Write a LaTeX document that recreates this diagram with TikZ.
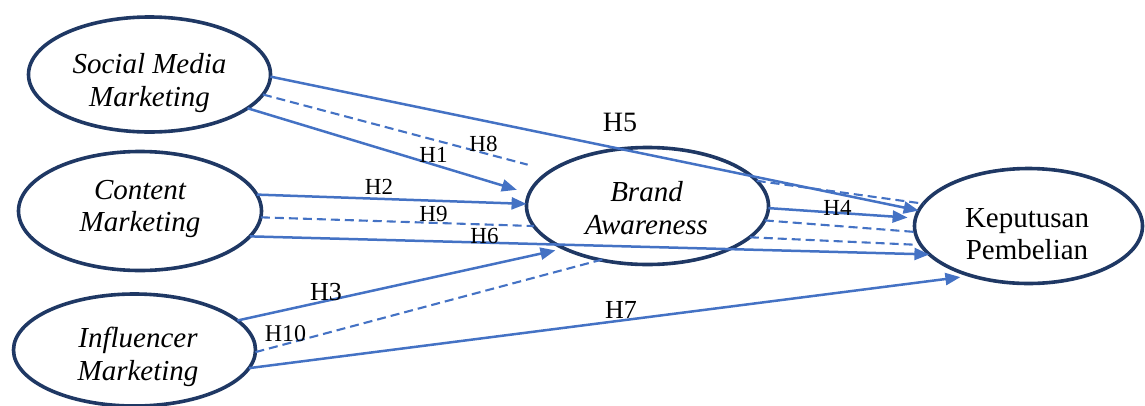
\documentclass[tikz,border=0pt]{standalone}
\usepackage{fontspec}
\setmainfont{Liberation Serif}
\usetikzlibrary{arrows.meta,shapes.geometric}
\definecolor{navy}{HTML}{1F3864}
\definecolor{link}{HTML}{4472C4}
\begin{document}
\begin{tikzpicture}[x=1pt,y=-1pt,
  construct/.style={ellipse, draw=navy, line width=3.6pt, outer sep=0pt, inner sep=0pt},
  caption/.style={font=\fontsize{29}{32.5}\selectfont, align=center, inner sep=0pt},
  slanted/.style={font=\fontsize{29}{32.5}\selectfont\itshape},
  effect/.style={draw=link, line width=2.5pt, -{Triangle[length=15pt,width=12pt]}},
  mediated/.style={draw=link, line width=2.1pt, dash pattern=on 9pt off 5pt},
  hyp/.style={font=\fontsize{23}{23}\selectfont, inner sep=0pt}
]
\useasboundingbox (0,0) rectangle (1145,405);

% constructs
\node[construct, minimum width=242pt, minimum height=115pt] (smm) at (149.5,74.5) {};
\node[construct, minimum width=243pt, minimum height=119pt] (cm)  at (140,211) {};
\node[construct, minimum width=242pt, minimum height=112pt] (im)  at (134.5,350) {};
\node[construct, minimum width=242pt, minimum height=117pt] (ba)  at (647.5,206) {};
\node[construct, minimum width=228pt, minimum height=115pt] (kp)  at (1028.5,226) {};

\node[caption, slanted] (smm-text) at (149.5,82.8) {Social Media\\Marketing};
\node[caption, slanted] (cm-text)  at (140,209) {Content\\Marketing};
\node[caption, slanted] (im-text)  at (138,356.8) {Influencer\\Marketing};
\node[caption, slanted] (ba-text)  at (646.5,208.3) {Brand\\Awareness};
\node[caption] (kp-text) at (1027,234.2) {Keputusan\\Pembelian};

% direct effects
\draw[effect] (smm.-1) -- (kp.172);
\draw[effect, shorten >=13pt] (smm.-19) -- (ba.174);
\draw[effect] (cm.8) -- (ba.179);
\draw[effect] (cm.-13) -- (kp.196);
\draw[effect, shorten >=8pt] (ba.-1) -- (kp.176);
\draw[effect, shorten >=9pt] (im.16) -- (ba.207);
\draw[effect, shorten >=11pt] (im.-9) -- (kp.221);

% mediated effects through brand awareness
\draw[mediated, shorten >=24pt] (smm.-10) -- (ba.160);
\draw[mediated] (ba.13) -- (kp.168);
\draw[mediated] (cm.-3) -- (ba.190);
\draw[mediated] (ba.-7) -- (kp.183);
\draw[mediated, shorten >=-5pt] (im.-1) -- (ba.229);
\draw[mediated, shorten >=7pt] (ba.-17) -- (kp.190);

% hypothesis labels
\node[hyp] (h1) at (433.5,155) {H1};
\node[hyp] (h2) at (379,187) {H2};
\node[hyp, font=\fontsize{26}{26}\selectfont] (h3) at (326,292) {H3};
\node[hyp] (h4) at (837.5,208) {H4};
\node[hyp, font=\fontsize{28}{28}\selectfont] (h5) at (620,122) {H5};
\node[hyp] (h6) at (484.5,235.5) {H6};
\node[hyp, font=\fontsize{26}{26}\selectfont] (h7) at (621,310) {H7};
\node[hyp] (h8) at (483.5,144) {H8};
\node[hyp] (h9) at (433.5,214) {H9};
\node[hyp, font=\fontsize{24}{24}\selectfont] (h10) at (285.5,334) {H10};
\end{tikzpicture}
\end{document}
